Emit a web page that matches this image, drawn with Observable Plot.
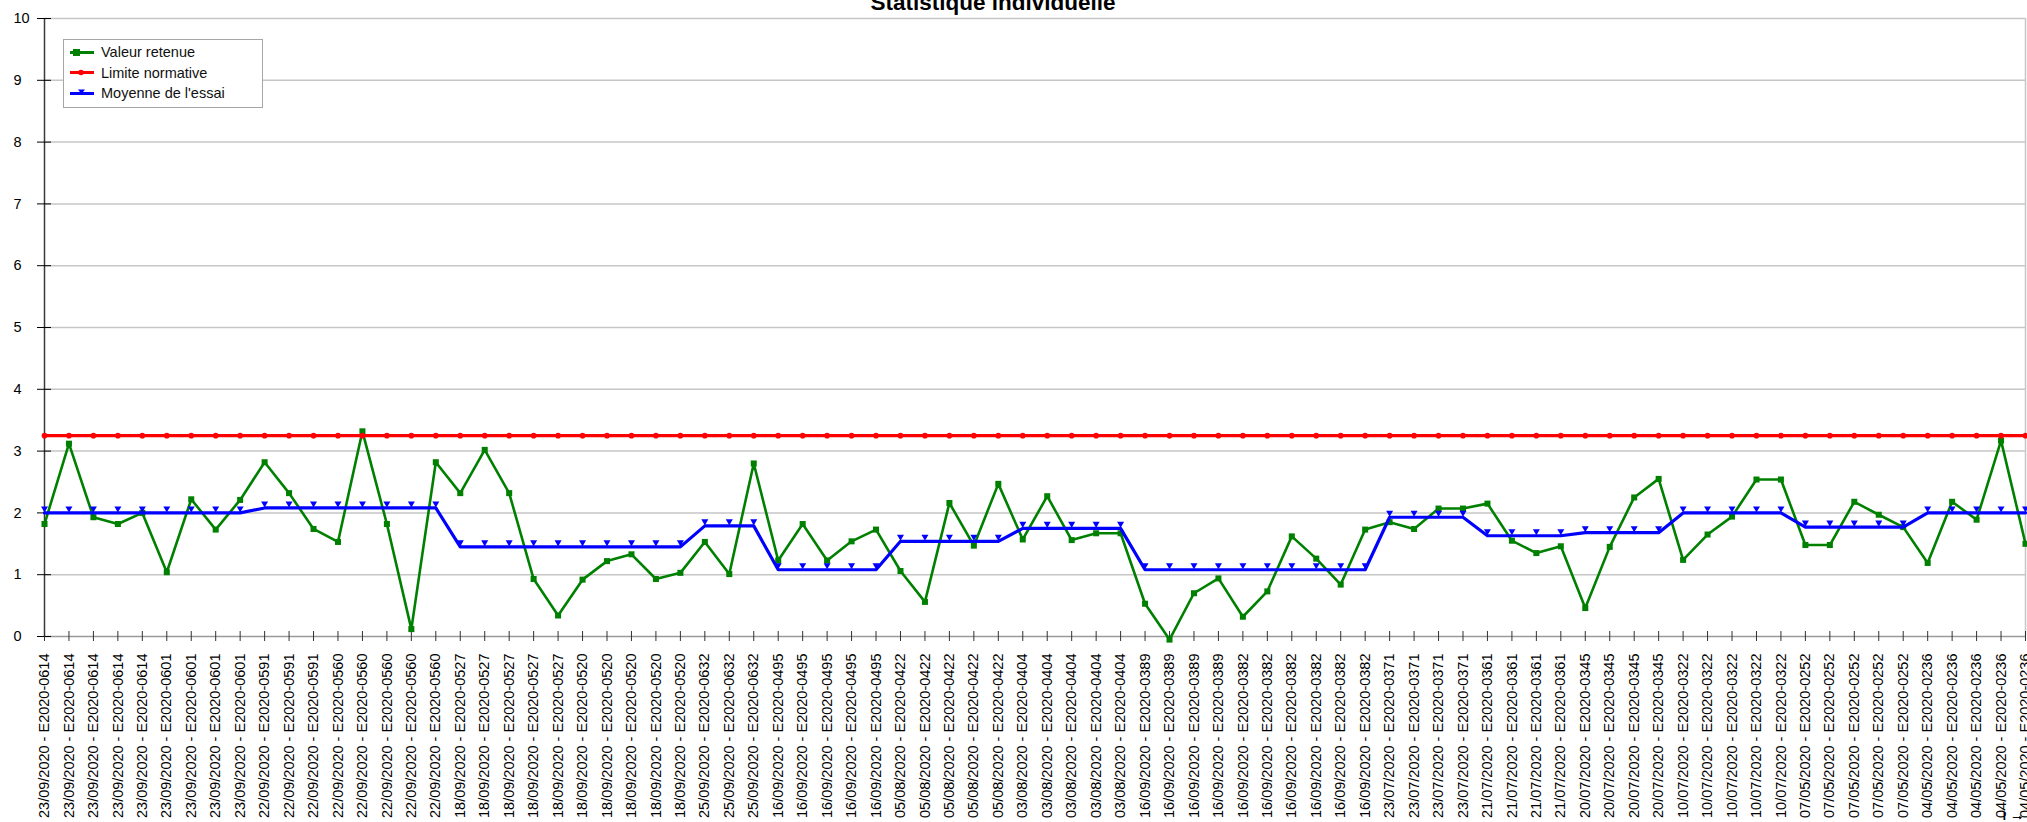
<!DOCTYPE html>
<html><head><meta charset="utf-8">
<script src="https://cdn.jsdelivr.net/npm/d3@7"></script>
<script src="https://cdn.jsdelivr.net/npm/@observablehq/plot@0.6"></script>
<style>
html,body{margin:0;padding:0;background:#fff;}
#wrap{position:relative;width:2027px;height:822px;overflow:hidden;font-family:"Liberation Sans",Arial,sans-serif;}
#chart svg{display:block;}
#title{position:absolute;top:-8px;left:993px;transform:translateX(-50%);font-weight:bold;font-size:22.5px;line-height:1;white-space:nowrap;color:#000;}
#legend{position:absolute;left:63px;top:39px;width:200px;height:69px;border:1px solid #a6a6a6;background:#fff;box-sizing:border-box;}
.item{position:absolute;left:6px;height:20px;display:flex;align-items:center;font-size:14.5px;color:#111;white-space:nowrap;}
.item svg{margin-right:7px;display:block;}
</style></head><body>
<div id="wrap"><div id="chart"></div><div id="title">Statistique individuelle</div><div id="legend"></div></div>
<script>
// Tick labels (one per test)
const labels = [
  "23/09/2020 - E2020-0614","23/09/2020 - E2020-0614","23/09/2020 - E2020-0614","23/09/2020 - E2020-0614","23/09/2020 - E2020-0614",
  "23/09/2020 - E2020-0601","23/09/2020 - E2020-0601","23/09/2020 - E2020-0601","23/09/2020 - E2020-0601",
  "22/09/2020 - E2020-0591","22/09/2020 - E2020-0591","22/09/2020 - E2020-0591",
  "22/09/2020 - E2020-0560","22/09/2020 - E2020-0560","22/09/2020 - E2020-0560","22/09/2020 - E2020-0560","22/09/2020 - E2020-0560",
  "18/09/2020 - E2020-0527","18/09/2020 - E2020-0527","18/09/2020 - E2020-0527","18/09/2020 - E2020-0527","18/09/2020 - E2020-0527",
  "18/09/2020 - E2020-0520","18/09/2020 - E2020-0520","18/09/2020 - E2020-0520","18/09/2020 - E2020-0520","18/09/2020 - E2020-0520",
  "25/09/2020 - E2020-0632","25/09/2020 - E2020-0632","25/09/2020 - E2020-0632",
  "16/09/2020 - E2020-0495","16/09/2020 - E2020-0495","16/09/2020 - E2020-0495","16/09/2020 - E2020-0495","16/09/2020 - E2020-0495",
  "05/08/2020 - E2020-0422","05/08/2020 - E2020-0422","05/08/2020 - E2020-0422","05/08/2020 - E2020-0422","05/08/2020 - E2020-0422",
  "03/08/2020 - E2020-0404","03/08/2020 - E2020-0404","03/08/2020 - E2020-0404","03/08/2020 - E2020-0404","03/08/2020 - E2020-0404",
  "16/09/2020 - E2020-0389","16/09/2020 - E2020-0389","16/09/2020 - E2020-0389","16/09/2020 - E2020-0389",
  "16/09/2020 - E2020-0382","16/09/2020 - E2020-0382","16/09/2020 - E2020-0382","16/09/2020 - E2020-0382","16/09/2020 - E2020-0382","16/09/2020 - E2020-0382",
  "23/07/2020 - E2020-0371","23/07/2020 - E2020-0371","23/07/2020 - E2020-0371","23/07/2020 - E2020-0371",
  "21/07/2020 - E2020-0361","21/07/2020 - E2020-0361","21/07/2020 - E2020-0361","21/07/2020 - E2020-0361",
  "20/07/2020 - E2020-0345","20/07/2020 - E2020-0345","20/07/2020 - E2020-0345","20/07/2020 - E2020-0345",
  "10/07/2020 - E2020-0322","10/07/2020 - E2020-0322","10/07/2020 - E2020-0322","10/07/2020 - E2020-0322","10/07/2020 - E2020-0322",
  "07/05/2020 - E2020-0252","07/05/2020 - E2020-0252","07/05/2020 - E2020-0252","07/05/2020 - E2020-0252","07/05/2020 - E2020-0252",
  "04/05/2020 - E2020-0236","04/05/2020 - E2020-0236","04/05/2020 - E2020-0236","04/05/2020 - E2020-0236","04/05/2020 - E2020-0236"
];

// Series: Valeur retenue
const valeurRetenue = [
  1.82, 3.12, 1.93, 1.82, 2.00, 1.04, 2.22, 1.73, 2.21, 2.82,
  2.32, 1.74, 1.53, 3.32, 1.82, 0.12, 2.82, 2.32, 3.02, 2.32,
  0.93, 0.34, 0.92, 1.22, 1.33, 0.93, 1.03, 1.53, 1.01, 2.80,
  1.23, 1.82, 1.23, 1.54, 1.73, 1.06, 0.56, 2.16, 1.47, 2.47,
  1.57, 2.27, 1.56, 1.67, 1.67, 0.53, -0.05, 0.70, 0.94, 0.32,
  0.73, 1.62, 1.26, 0.84, 1.73, 1.85, 1.74, 2.07, 2.07, 2.15,
  1.55, 1.35, 1.46, 0.46, 1.45, 2.25, 2.55, 1.24, 1.65, 1.94,
  2.54, 2.54, 1.48, 1.48, 2.18, 1.97, 1.77, 1.19, 2.18, 1.89,
  3.17, 1.50
];

// Series: Moyenne de l'essai
const moyenneEssai = [
  2.00, 2.00, 2.00, 2.00, 2.00, 2.00, 2.00, 2.00, 2.00,
  2.08, 2.08, 2.08, 2.08, 2.08, 2.08, 2.08, 2.08,
  1.45, 1.45, 1.45, 1.45, 1.45, 1.45, 1.45, 1.45, 1.45, 1.45,
  1.79, 1.79, 1.79,
  1.08, 1.08, 1.08, 1.08, 1.08,
  1.54, 1.54, 1.54, 1.54, 1.54,
  1.75, 1.75, 1.75, 1.75, 1.75,
  1.08, 1.08, 1.08, 1.08, 1.08, 1.08, 1.08, 1.08, 1.08, 1.08,
  1.93, 1.93, 1.93, 1.93,
  1.63, 1.63, 1.63, 1.63,
  1.68, 1.68, 1.68, 1.68,
  2.00, 2.00, 2.00, 2.00, 2.00,
  1.77, 1.77, 1.77, 1.77, 1.77,
  2.00, 2.00, 2.00, 2.00, 2.00
];

// Series: Limite normative
const limiteNormative = 3.25;

// Y tick values
const yTicks = [0, 1, 2, 3, 4, 5, 6, 7, 8, 9, 10];

const seriesNames = ["Valeur retenue", "Limite normative", "Moyenne de l'essai"];
const seriesColors = ["#008000", "#ff0000", "#0000ff"];

const idx = d3.range(labels.length);
const rows = idx.map(i => ({i, label: labels[i], valeur: valeurRetenue[i], moyenne: moyenneEssai[i], limite: limiteNormative}));

const chart = Plot.plot({
  width: 2027, height: 822,
  marginLeft: 44, marginRight: 2, marginTop: 18, marginBottom: 186,
  style: {fontFamily: '"Liberation Sans", Arial, sans-serif', fontSize: "14.5px", color: "#000", background: "#fff", overflow: "visible"},
  x: {type: "linear", domain: [0, labels.length - 1]},
  y: {domain: [0, 10]},
  marks: [
    Plot.gridY(yTicks.slice(1), {stroke: "#c6c6c6", strokeOpacity: 1, strokeWidth: 1.5}),
    Plot.ruleX([labels.length - 1], {stroke: "#c6c6c6", strokeWidth: 1.5}),
    Plot.ruleY([0], {stroke: "#9a9a9a", strokeWidth: 1.5}),
    Plot.ruleX([0], {stroke: "#3a3a3a", strokeWidth: 1.5}),
    Plot.axisY({ticks: yTicks, tickSize: 14, dx: 7, tickFormat: () => "", stroke: "#000"}),
    Plot.axisY({ticks: yTicks, tickSize: 0, tickPadding: 31, textAnchor: "start", fill: "#000"}),
    Plot.axisX({ticks: idx, tickSize: 10, dy: -5, tickFormat: () => "", stroke: "#333"}),
    Plot.axisX({ticks: idx, tickSize: 0, tickPadding: 17, tickRotate: -90, tickFormat: i => labels[i], fill: "#000"}),
    Plot.lineY(rows, {x: "i", y: "valeur", stroke: seriesColors[0], strokeWidth: 2.6}),
    Plot.dot(rows, {x: "i", y: "valeur", symbol: "square", r: 3.4, fill: seriesColors[0]}),
    Plot.lineY(rows, {x: "i", y: "limite", stroke: seriesColors[1], strokeWidth: 3.2}),
    Plot.dot(rows, {x: "i", y: "limite", r: 2.8, fill: seriesColors[1]}),
    Plot.lineY(rows, {x: "i", y: "moyenne", stroke: seriesColors[2], strokeWidth: 3.2}),
    Plot.dot(rows, {x: "i", y: "moyenne", symbol: "triangle", rotate: 180, r: 2.6, fill: seriesColors[2], dy: -4.5})
  ]
});
document.getElementById("chart").appendChild(chart);

// Legend
const legend = document.getElementById("legend");
const centers = [12, 32.6, 53];
const markerSvg = [
  `<rect x="3" y="3" width="7" height="7" fill="${seriesColors[0]}"/>`,
  `<circle cx="11" cy="6.5" r="2.8" fill="${seriesColors[1]}"/>`,
  `<path d="M8 2.5 L15 2.5 L11.5 7 Z" fill="${seriesColors[2]}"/>`
];
seriesNames.forEach((name, k) => {
  const item = document.createElement("div");
  item.className = "item";
  item.style.top = (centers[k] - 10) + "px";
  item.innerHTML = `<svg width="24" height="13"><line x1="0" x2="24" y1="6.5" y2="6.5" stroke="${seriesColors[k]}" stroke-width="3"/>${markerSvg[k]}</svg><span>${name}</span>`;
  legend.appendChild(item);
});
</script>
</body></html>
